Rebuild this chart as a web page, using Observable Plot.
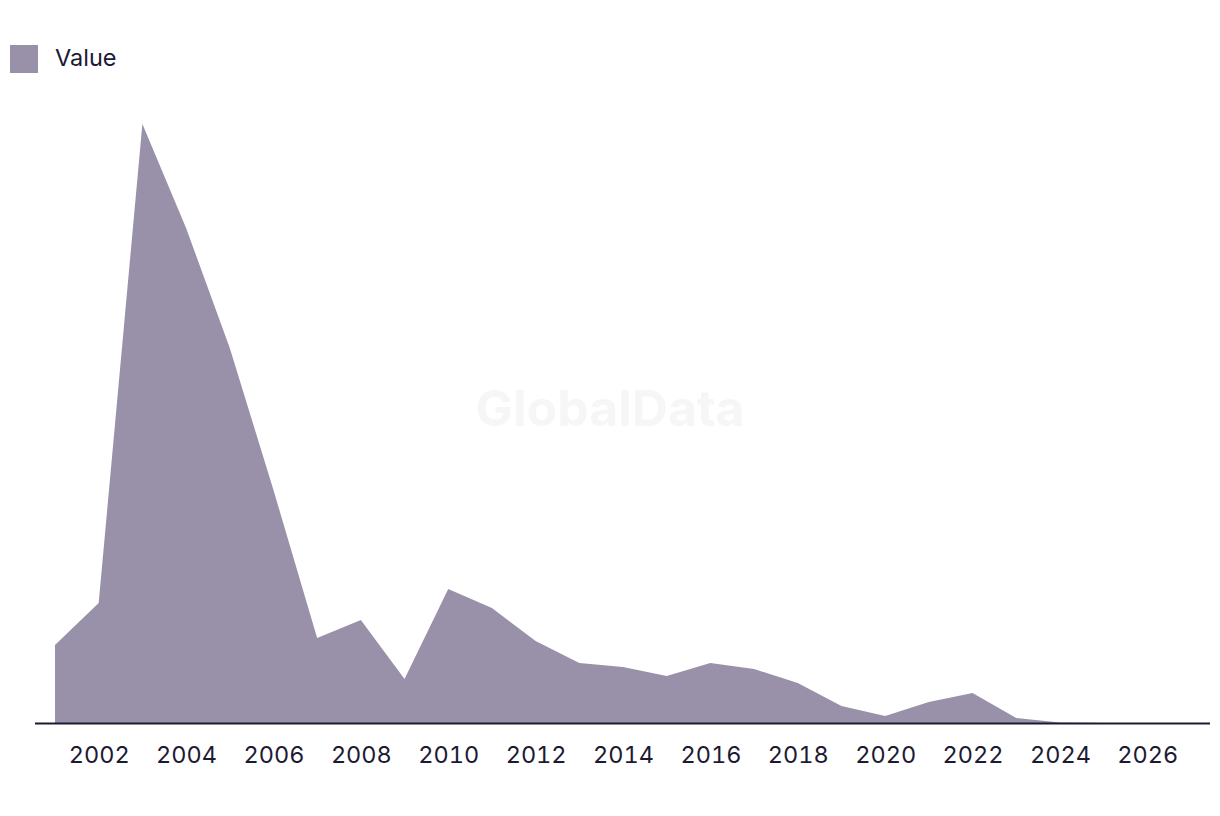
<!DOCTYPE html>
<html>
<head>
<meta charset="utf-8">
<script src="https://cdn.jsdelivr.net/npm/d3@7"></script>
<script src="https://cdn.jsdelivr.net/npm/@observablehq/plot@0.6"></script>
<style>
  html, body { margin: 0; padding: 0; background: #fff; }
  body { width: 1220px; height: 816px; position: relative; overflow: hidden; font-family: Inter, "Noto Sans", sans-serif; color: #1c1a33; }
  #legend { height: 100px; position: relative; }
  #legend .sw { position: absolute; left: 10px; top: 45px; width: 28px; height: 28px; background: #9990a9; }
  #legend .lb { position: absolute; left: 55px; top: 43px; font-size: 23.5px; line-height: 30px; }
  #wm { position: absolute; left: 0; width: 1220px; text-align: center; top: 378px; font-size: 50px; line-height: 60px; font-weight: 700; color: #f6f6f6; pointer-events: none; }
  #chart { position: relative; }
</style>
</head>
<body>
<div id="legend"><div class="sw"></div><div class="lb">Value</div></div>
<div id="wm">GlobalData</div>
<div id="chart"></div>
<script>
const years = [2001,2002,2003,2004,2005,2006,2007,2008,2009,2010,2011,2012,2013,2014,2015,2016,2017,2018,2019,2020,2021,2022,2023,2024,2025,2026,2027];
const values = [78,120,599,495,375,233,85,103,44,134,115,82,60,56,47,60,54,40,17,7,21,30,5,0.5,0,0,0];
const tickYears = [2002,2004,2006,2008,2010,2012,2014,2016,2018,2020,2022,2024,2026];
const seriesName = "Value";

const data = years.map((y, i) => ({year: y, value: values[i], series: seriesName}));

const chart = Plot.plot({
  width: 1220,
  height: 716,
  marginLeft: 55,
  marginRight: 29,
  marginTop: 24,
  marginBottom: 93,
  style: {fontFamily: "Inter, 'Noto Sans', sans-serif", fontSize: "23px", color: "#1c1a33", background: "transparent"},
  x: {domain: [2001, 2027]},
  y: {domain: [0, 599], axis: null},
  marks: [
    Plot.areaY(data, {x: "year", y: "value", fill: "#9990a9"}),
    Plot.ruleY([0], {stroke: "#1c1a33", strokeWidth: 2, insetLeft: -20, insetRight: -19}),
    Plot.axisX({ticks: tickYears, tickFormat: d => String(d), tickSize: 0, tickPadding: 23, fontSize: 23.5, label: null})
  ]
});
document.getElementById("chart").appendChild(chart);
</script>
</body>
</html>
